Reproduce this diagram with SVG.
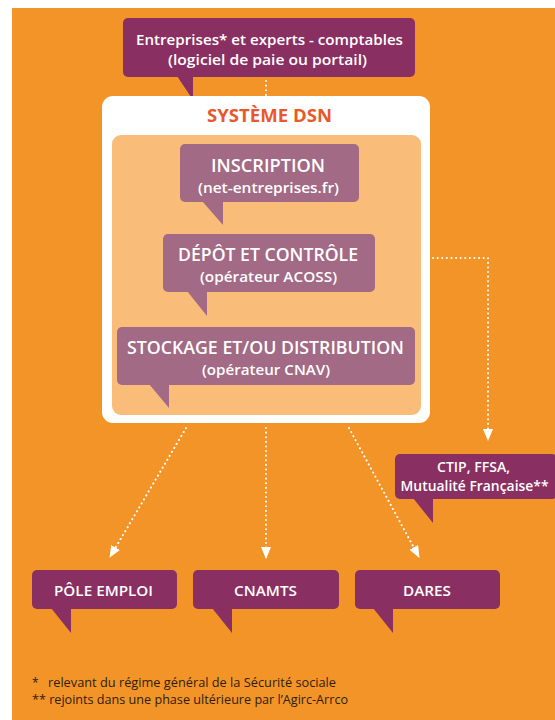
<svg xmlns="http://www.w3.org/2000/svg" width="555" height="720" viewBox="0 0 555 720">
<defs>
<style>
.dk{fill:#8A2F62}
.md{fill:#A26A85}
.t{font-family:"Open Sans","Noto Sans",sans-serif;font-weight:600;fill:#ffffff;text-anchor:middle}
.big{font-size:18px}
.sm{font-size:15px}
.xs{font-size:13.5px}
.dot{fill:none;stroke:#ffffff;stroke-width:2;stroke-dasharray:0.1 4.5;stroke-linecap:round}
.fn{font-family:"Open Sans","Noto Sans",sans-serif;font-size:12px;fill:#2e1c0c}
</style>
<marker id="ah" viewBox="0 0 12 10" refX="11" refY="5" markerWidth="12" markerHeight="10" markerUnits="userSpaceOnUse" orient="auto">
<path d="M0,0 L12,5 L0,10 Z" fill="#ffffff"/>
</marker>
</defs>
<rect x="0" y="0" width="555" height="720" fill="#ffffff"/>
<rect x="12" y="8" width="543" height="712" fill="#F39428"/>

<g id="connectors">
<path class="dot" d="M266,81 L266,95"/>
<path class="dot" d="M433,258 L488,258 L488,440" marker-end="url(#ah)"/>
<path class="dot" d="M186,428 L110,557" marker-end="url(#ah)"/>
<path class="dot" d="M266,428 L266,558" marker-end="url(#ah)"/>
<path class="dot" d="M349,428 L419,557" marker-end="url(#ah)"/>
</g>

<g id="entreprises">
<rect class="dk" x="123" y="18" width="292" height="59" rx="5"/>
<polygon class="dk" points="177,76 193,76 193,100"/>
<text class="t sm" x="269.5" y="45" textLength="267" lengthAdjust="spacingAndGlyphs">Entreprises* et experts - comptables</text>
<text class="t sm" x="267.5" y="65" textLength="199" lengthAdjust="spacingAndGlyphs">(logiciel de paie ou portail)</text>
</g>

<g id="systeme-dsn">
<rect x="102" y="96" width="328" height="327" rx="11" fill="#ffffff"/>
<rect x="112" y="135" width="309" height="280" rx="9" fill="#F9BD79"/>
<text x="269.5" y="122" font-family="Open Sans, Noto Sans, sans-serif" font-weight="700" font-size="18" fill="#E8582A" text-anchor="middle" textLength="125" lengthAdjust="spacingAndGlyphs">SYSTÈME DSN</text>
</g>

<g id="inscription">
<rect class="md" x="180" y="144" width="179" height="58" rx="5"/>
<polygon class="md" points="202,201 223,201 223,225"/>
<text class="t big" x="268" y="172" textLength="114" lengthAdjust="spacingAndGlyphs">INSCRIPTION</text>
<text class="t sm" x="268.5" y="193" textLength="141" lengthAdjust="spacingAndGlyphs">(net-entreprises.fr)</text>
</g>

<g id="depot">
<rect class="md" x="163" y="234" width="212" height="58" rx="5"/>
<polygon class="md" points="187,291 207,291 207,316"/>
<text class="t big" x="268" y="261" textLength="180" lengthAdjust="spacingAndGlyphs">DÉPÔT ET CONTRÔLE</text>
<text class="t sm" x="268.5" y="282" textLength="137" lengthAdjust="spacingAndGlyphs">(opérateur ACOSS)</text>
</g>

<g id="stockage">
<rect class="md" x="117" y="327" width="298" height="58" rx="5"/>
<polygon class="md" points="149,384 169,384 169,408"/>
<text class="t big" x="265.5" y="354" textLength="277" lengthAdjust="spacingAndGlyphs">STOCKAGE ET/OU DISTRIBUTION</text>
<text class="t sm" x="266" y="375" textLength="128" lengthAdjust="spacingAndGlyphs">(opérateur CNAV)</text>
</g>

<g id="ctip">
<rect class="dk" x="395" y="454" width="162" height="45" rx="5"/>
<polygon class="dk" points="413,498 433,498 433,523"/>
<text class="t xs" x="473.5" y="472" textLength="73" lengthAdjust="spacingAndGlyphs">CTIP, FFSA,</text>
<text class="t xs" x="474.5" y="491" textLength="148" lengthAdjust="spacingAndGlyphs">Mutualité Française**</text>
</g>

<g id="pole-emploi">
<rect class="dk" x="32" y="570" width="145" height="39" rx="5"/>
<polygon class="dk" points="51,608 71,608 71,633"/>
<text class="t sm" x="103.5" y="596" textLength="99" lengthAdjust="spacingAndGlyphs">PÔLE EMPLOI</text>
</g>

<g id="cnamts">
<rect class="dk" x="193" y="570" width="146" height="39" rx="5"/>
<polygon class="dk" points="212,608 232,608 232,633"/>
<text class="t sm" x="265.5" y="596" textLength="63" lengthAdjust="spacingAndGlyphs">CNAMTS</text>
</g>

<g id="dares">
<rect class="dk" x="355" y="570" width="145" height="39" rx="5"/>
<polygon class="dk" points="373,608 393,608 393,633"/>
<text class="t sm" x="427" y="596" textLength="48" lengthAdjust="spacingAndGlyphs">DARES</text>
</g>

<g id="footnotes">
<text class="fn" x="32" y="687">*</text>
<text class="fn" x="48" y="687" textLength="288" lengthAdjust="spacingAndGlyphs">relevant du régime général de la Sécurité sociale</text>
<text class="fn" x="32" y="704" textLength="316" lengthAdjust="spacingAndGlyphs">** rejoints dans une phase ultérieure par l’Agirc-Arrco</text>
</g>
</svg>
